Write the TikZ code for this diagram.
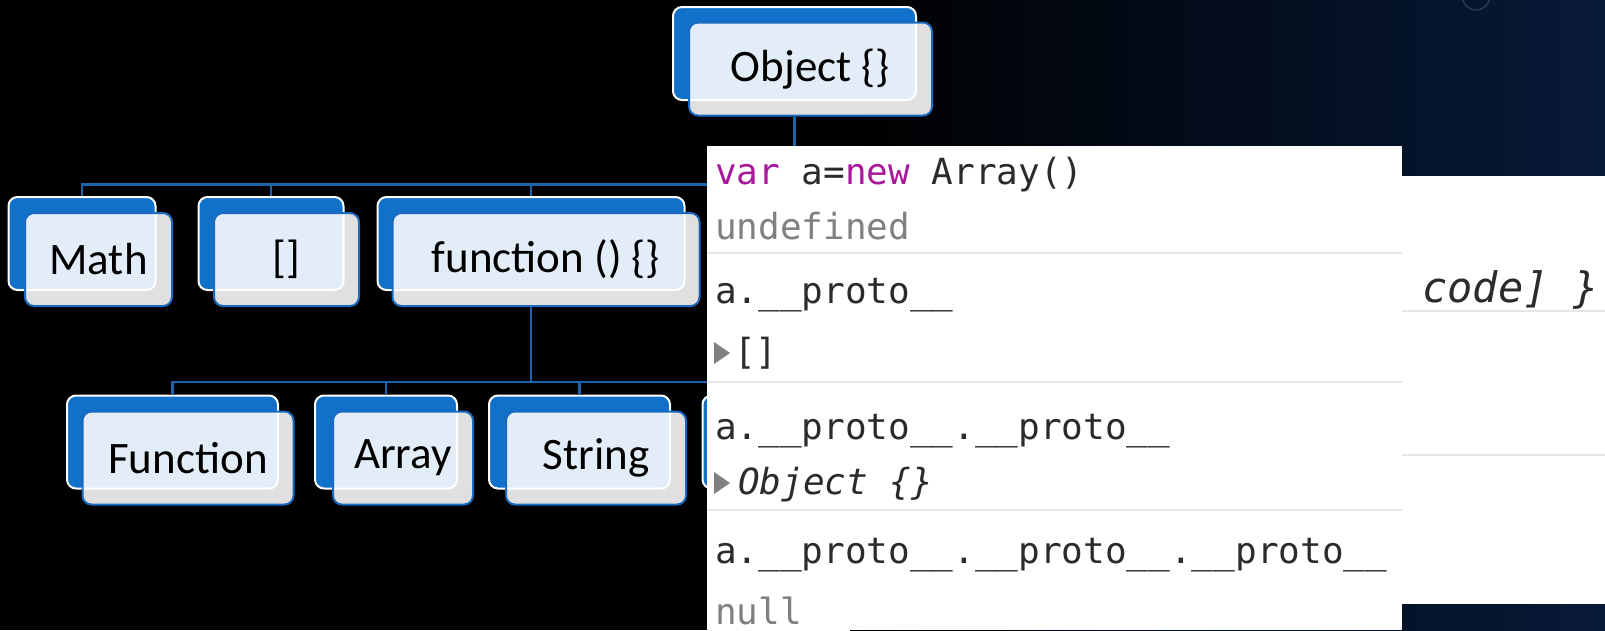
\documentclass[tikz,border=0pt]{standalone}
\usepackage{fontspec}
\setmainfont{Carlito}
\newfontfamily\consolefont{DejaVu Sans Mono}
\usepackage{tikz}
\definecolor{boxblue}{HTML}{1170C8}
\definecolor{edgeblue}{HTML}{1C6AC0}
\definecolor{lineblue}{HTML}{1E62AE}
\definecolor{bgnavy}{HTML}{071A38}
\definecolor{kwpurple}{HTML}{A8199C}
\definecolor{codegray}{HTML}{808080}
\definecolor{codetext}{HTML}{2B2B2B}
\definecolor{sepgray}{HTML}{E6E6E6}
\newcommand{\kw}[1]{\textcolor{kwpurple}{#1}}
\newcommand{\gr}[1]{\textcolor{codegray}{#1}}

\tikzset{
	backbox/.style={draw=white, fill=boxblue, line width=2pt, rounded corners=9pt, minimum height=93pt, inner sep=0pt},
	frontbox/.style={draw=edgeblue, fill=white, fill opacity=0.88, text opacity=1, line width=2pt, rounded corners=9pt, minimum height=93pt, inner sep=0pt, font=\fontsize{45}{50}\selectfont},
	conn/.style={draw=lineblue, line width=2.5pt},
	code/.style={anchor=base west, inner sep=0pt, text=codetext, font=\consolefont\fontsize{36}{40}\selectfont},
	seprule/.style={draw=sepgray, line width=2pt}
}

\begin{document}
\begin{tikzpicture}[x=1pt,y=-1pt]
			\useasboundingbox (0,0) rectangle (1605,630);
			\fill[black] (0,0) rectangle (1605,630);
			\shade[left color=black, right color=bgnavy] (850,0) rectangle (1605,630);
			\draw[white, opacity=0.15, line width=1.5pt] (1476,-4) circle (14);
			%
			\node[backbox, minimum width=243pt]	(objB)	at	(794.5, 53.5)	{};
			\node[frontbox, minimum width=243pt]	(obj)	at	(810.5, 69)	{Object \{\}};
			%
			\node[backbox, minimum width=147pt]	(mathB)	at	(82, 243.5)	{};
			\node[frontbox, minimum width=147pt]	(math)	at	(98.5, 259.5)	{Math};
			\node[backbox, minimum width=145pt]	(arrB)	at	(271, 243.5)	{};
			\node[frontbox, minimum width=145pt]	(arr)	at	(286.5, 259.5)	{[]};
			\node[backbox, minimum width=307pt]	(funB)	at	(531, 243.5)	{};
			\node[frontbox, minimum width=307pt]	(fun)	at	(546, 259.5)	{function () \{\}};
			%
			\node[backbox, minimum width=211pt]	(FunB)	at	(172.5, 442)	{};
			\node[frontbox, minimum width=211pt]	(Fun)	at	(188, 458)	{Function};
			\node[backbox, minimum width=142pt]	(ArrB)	at	(386, 442)	{};
			\node[frontbox, minimum width=140pt]	(Arr)	at	(403, 458)	{Array};
			\node[backbox, minimum width=181pt]	(StrB)	at	(579.5, 442)	{};
			\node[frontbox, minimum width=180pt]	(Str)	at	(596, 458)	{String};
			\node[backbox, minimum width=181pt]	(hidB)	at	(793, 442)	{};
			%
			\foreach \c in {mathB,arrB,funB}
				\draw[conn] (objB.south |- obj.south) -- ++(0,68) -| (\c.north);
			\foreach \c in {FunB,ArrB,StrB,hidB}
				\draw[conn] (funB.south |- fun.south) -- ++(0,75) -| (\c.north);
			%
			\fill[white] (1300,176) rectangle (1605,604);
			\draw[seprule] (1300,311) -- (1605,311);
			\draw[seprule] (1300,455) -- (1605,455);
			\node[code, font=\consolefont\itshape\fontsize{42}{46}\selectfont] (tail) at (1422,302) {code] \}};
			%
			\fill[white] (707,146) rectangle (1402,630);
			\foreach \y in {253,382,510}
				\draw[seprule] (707,\y) -- (1402,\y);
			\node[code] (l1)	at	(715, 184)	{\kw{var} a=\kw{new} Array()};
			\node[code] (l2)	at	(715, 239)	{\gr{undefined}};
			\node[code] (l3)	at	(715, 303)	{a.\_\_proto\_\_};
			\node[code] (l4)	at	(734, 364)	{[]};
			\node[code] (l5)	at	(715, 439)	{a.\_\_proto\_\_.\_\_proto\_\_};
			\node[code] (l6)	at	(738, 494)	{\itshape Object \{\}};
			\node[code] (l7)	at	(715, 563)	{a.\_\_proto\_\_.\_\_proto\_\_.\_\_proto\_\_};
			\node[code] (l8)	at	(715, 624)	{\gr{null}};
			\fill[codegray] (714,342) -- (730,353) -- (714,364) -- cycle;
			\fill[codegray] (714,472) -- (730,483) -- (714,494) -- cycle;
		\end{tikzpicture}
\end{document}
